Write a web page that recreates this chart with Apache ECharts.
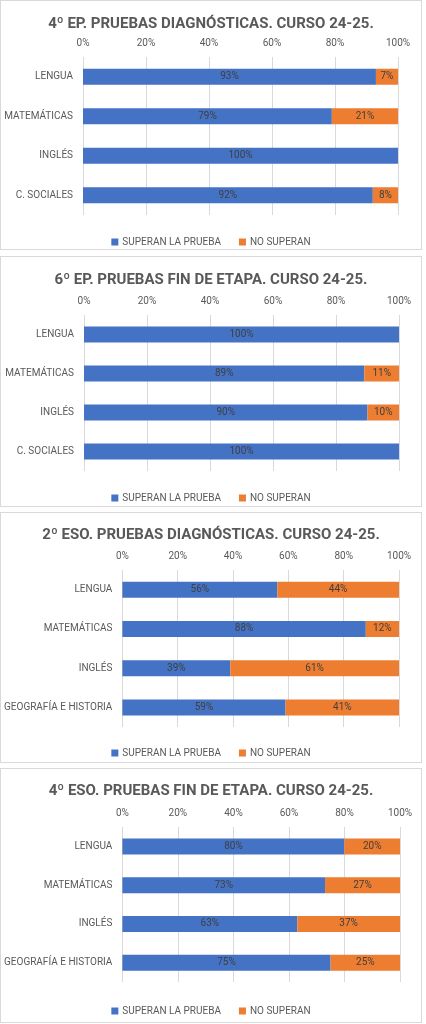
<!DOCTYPE html>
<html><head><meta charset="utf-8">
<script src="https://cdn.jsdelivr.net/npm/echarts@6/dist/echarts.min.js"></script>
<style>
html,body{margin:0;padding:0;background:#fff;width:426px;height:1024px;overflow:hidden}
.panel{position:absolute;left:0;width:420px;border:1px solid #d9d9d9;background:#fff}
.chart{width:100%;height:100%}
</style></head><body>
<div class="panel" id="p1" style="top:0;height:248px"><div class="chart" id="c1"></div></div>
<div class="panel" id="p2" style="top:256px;height:249px"><div class="chart" id="c2"></div></div>
<div class="panel" id="p3" style="top:512px;height:249px"><div class="chart" id="c3"></div></div>
<div class="panel" id="p4" style="top:768px;height:253px"><div class="chart" id="c4"></div></div>
<script>
const titles = [
  "4º EP. PRUEBAS DIAGNÓSTICAS. CURSO 24-25.",
  "6º EP. PRUEBAS FIN DE ETAPA. CURSO 24-25.",
  "2º ESO. PRUEBAS DIAGNÓSTICAS. CURSO 24-25.",
  "4º ESO. PRUEBAS FIN DE ETAPA. CURSO 24-25."
];
const categoriesEP = ["LENGUA", "MATEMÁTICAS", "INGLÉS", "C. SOCIALES"];
const categoriesESO = ["LENGUA", "MATEMÁTICAS", "INGLÉS", "GEOGRAFÍA E HISTORIA"];
const seriesNames = ["SUPERAN LA PRUEBA", "NO SUPERAN"];
const superan1 = [93, 79, 100, 92];
const noSuperan1 = [7, 21, 0, 8];
const superan2 = [100, 89, 90, 100];
const noSuperan2 = [0, 11, 10, 0];
const superan3 = [56, 88, 39, 59];
const noSuperan3 = [44, 12, 61, 41];
const superan4 = [80, 73, 63, 75];
const noSuperan4 = [20, 27, 37, 25];
const xTicks = [0, 20, 40, 60, 80, 100];

const FONT = "Roboto";
const panels = [
  {id:"c1", title:titles[0], cats:categoriesEP, a:superan1, b:noSuperan1, titleTop:11, grid:{left:82,right:23,top:56,height:158}, legendTop:231},
  {id:"c2", title:titles[1], cats:categoriesEP, a:superan2, b:noSuperan2, titleTop:11, grid:{left:83,right:22,top:58,height:156}, legendTop:231},
  {id:"c3", title:titles[2], cats:categoriesESO, a:superan3, b:noSuperan3, titleTop:10, grid:{left:120,right:22,top:57,height:157}, legendTop:230},
  {id:"c4", title:titles[3], cats:categoriesESO, a:superan4, b:noSuperan4, titleTop:10, grid:{left:121,right:21,top:58,height:155}, legendTop:232}
];

panels.forEach(p => {
  const chart = echarts.init(document.getElementById(p.id), null, {renderer:'canvas'});
  const lbl = {
    show:true, position:'inside', color:'#404040', fontSize:10, fontFamily:FONT,
    formatter: prm => prm.value > 0 ? prm.value + '%' : ''
  };
  chart.setOption({
    animation:false,
    textStyle:{fontFamily:FONT},
    title:{text:p.title, left:'center', top:p.titleTop,
      textStyle:{fontFamily:FONT, fontWeight:'bold', fontSize:15, color:'#595959'}},
    legend:{data:seriesNames, top:p.legendTop, left:'center', icon:'rect',
      itemWidth:7, itemHeight:7, itemGap:18,
      textStyle:{fontFamily:FONT, fontSize:10, color:'#595959', padding:[0,0,0,-1]}},
    grid:p.grid,
    xAxis:{type:'value', position:'top', min:0, max:100, interval:20,
      axisLine:{show:false}, axisTick:{show:false},
      axisLabel:{formatter: v => xTicks.includes(v) ? v + '%' : '', color:'#595959', fontSize:10, margin:9, fontFamily:FONT},
      splitLine:{lineStyle:{color:'#d9d9d9', width:1}}},
    yAxis:{type:'category', data:p.cats, inverse:true,
      axisLine:{show:false}, axisTick:{show:false},
      axisLabel:{color:'#595959', fontSize:10, margin:10, fontFamily:FONT}},
    series:[
      {name:seriesNames[0], type:'bar', stack:'total', data:p.a, barWidth:16,
       itemStyle:{color:'#4472C4'}, label:lbl},
      {name:seriesNames[1], type:'bar', stack:'total', data:p.b, barWidth:16,
       itemStyle:{color:'#ED7D31'}, label:lbl}
    ]
  });
});
</script>
</body></html>
